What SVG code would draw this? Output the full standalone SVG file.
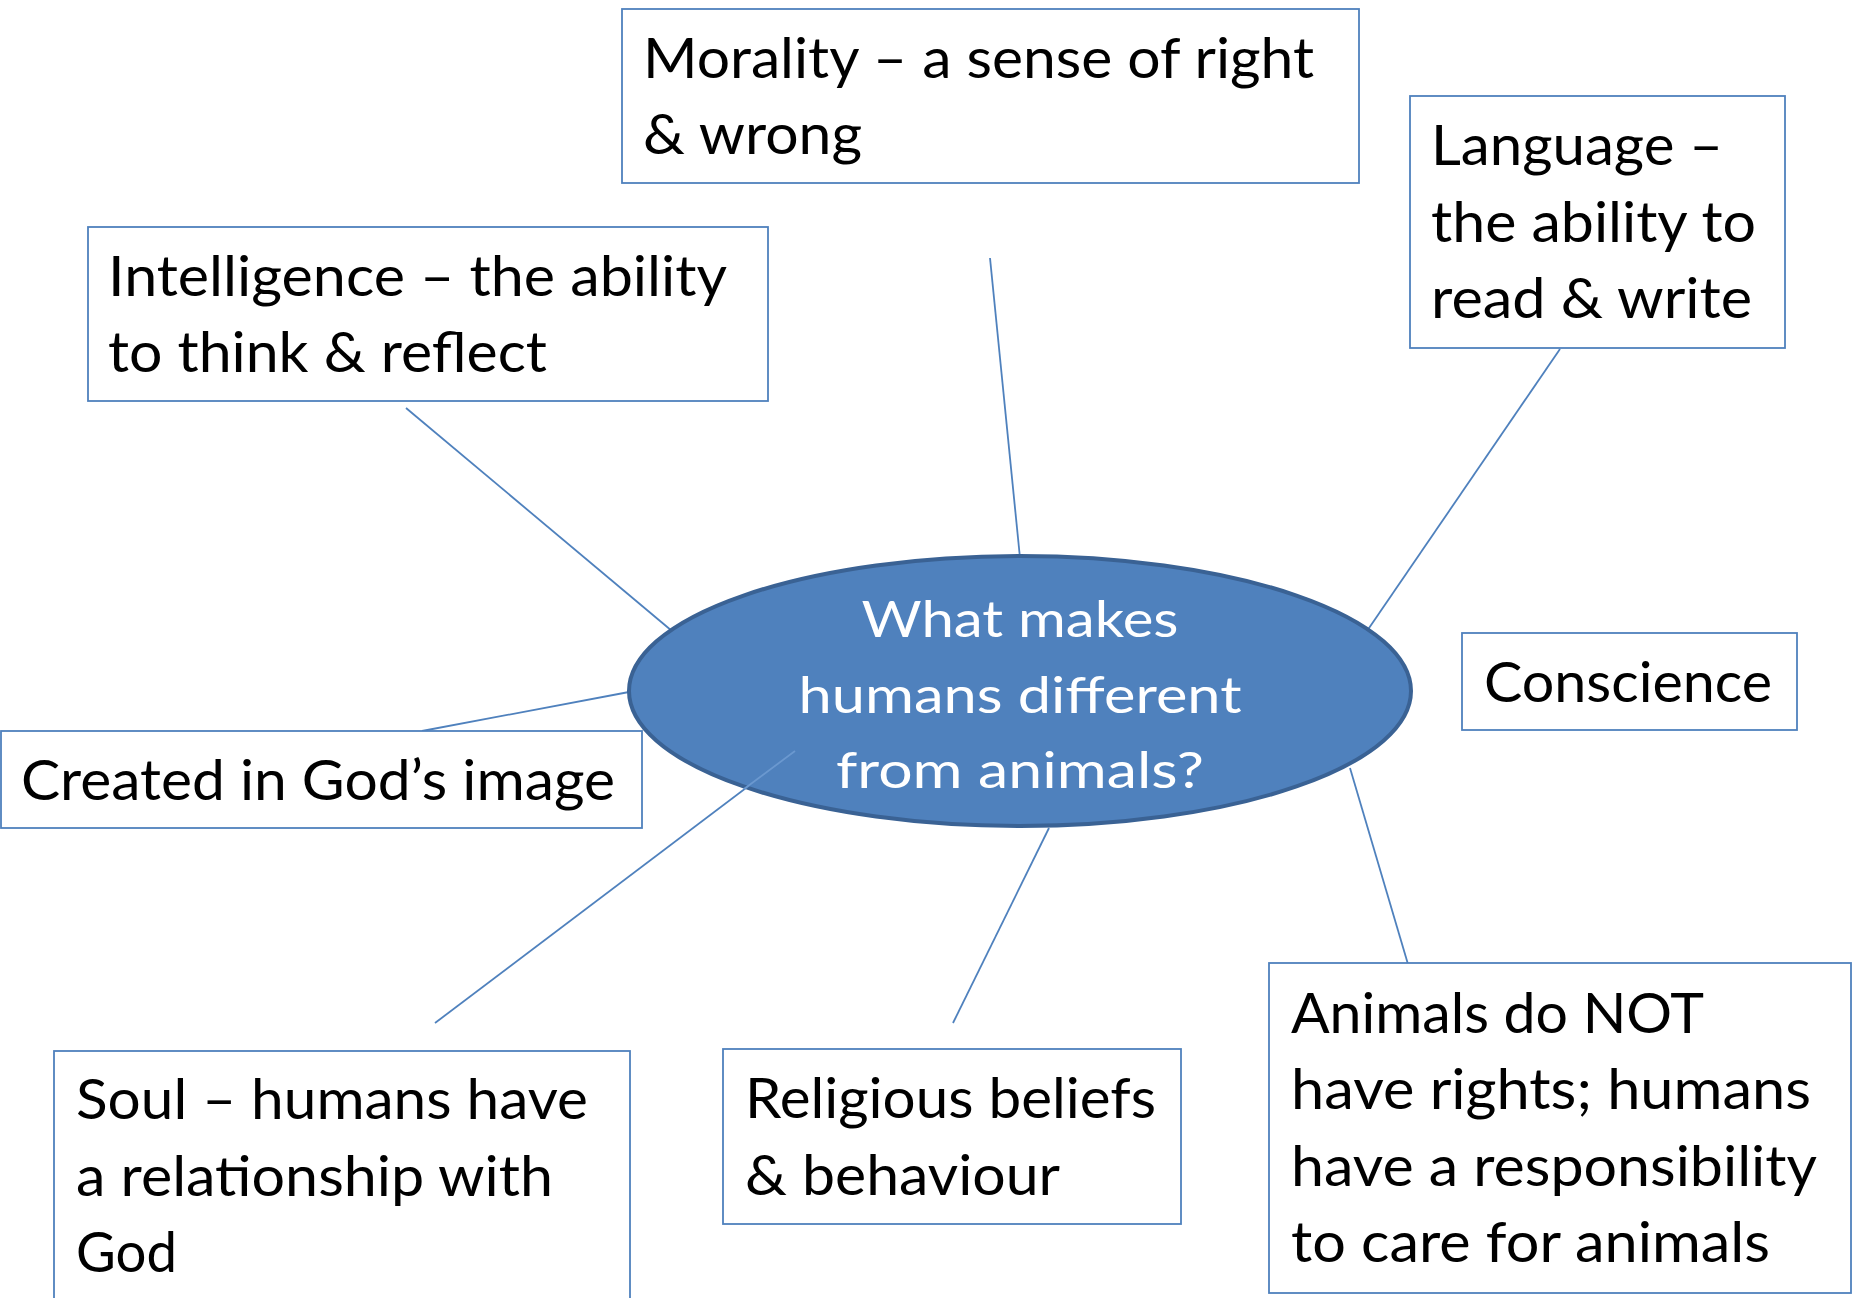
<svg xmlns="http://www.w3.org/2000/svg" width="1861" height="1298" viewBox="0 0 1861 1298">
<style>
.box{fill:#ffffff;stroke:#4F81BD;stroke-width:1.8}
.t{font-family:Lato,"Open Sans","Liberation Sans",sans-serif;font-size:56px;fill:#000000}
.c{font-family:Lato,"Open Sans","Liberation Sans",sans-serif;font-size:50px;fill:#ffffff;text-anchor:middle}
.ln{stroke:#4F81BD;stroke-width:1.8;fill:none}
</style>
<rect width="1861" height="1298" fill="#ffffff"/>
<g id="connectors">
<line class="ln" x1="990" y1="258" x2="1020" y2="558"/>
<line class="ln" x1="406" y1="408" x2="672" y2="631"/>
<line class="ln" x1="1560" y1="349" x2="1367" y2="631"/>
<line class="ln" x1="422" y1="731" x2="629" y2="692"/>
<line class="ln" x1="1049" y1="828" x2="953" y2="1023"/>
<line class="ln" x1="1350" y1="768" x2="1410" y2="971"/>
</g>
<g id="center">
<ellipse cx="1020" cy="691" rx="391" ry="135" fill="#4F81BD" stroke="#3A6294" stroke-width="4"/>
<text class="c" x="1020" y="637" textLength="317" lengthAdjust="spacingAndGlyphs">What makes</text>
<text class="c" x="1020" y="713" textLength="443" lengthAdjust="spacingAndGlyphs">humans different</text>
<text class="c" x="1020" y="788" textLength="368" lengthAdjust="spacingAndGlyphs">from animals?</text>
</g>
<g id="connector-soul">
<line x1="795" y1="751" x2="435" y2="1023" stroke="#4F81BD" stroke-width="1.8"/>
<line x1="795" y1="751" x2="744" y2="789" stroke="#6B98CF" stroke-width="1.8"/>
</g>
<g id="morality">
<rect class="box" x="622" y="9" width="737" height="174"/>
<text class="t" x="643" y="78" textLength="671" lengthAdjust="spacingAndGlyphs">Morality – a sense of right</text>
<text class="t" x="643" y="154" textLength="219" lengthAdjust="spacingAndGlyphs">&amp; wrong</text>
</g>
<g id="intelligence">
<rect class="box" x="88" y="227" width="680" height="174"/>
<text class="t" x="108" y="296" textLength="619" lengthAdjust="spacingAndGlyphs">Intelligence – the ability</text>
<text class="t" x="108" y="372" textLength="439" lengthAdjust="spacingAndGlyphs">to think &amp; reflect</text>
</g>
<g id="language">
<rect class="box" x="1410" y="96" width="375" height="252"/>
<text class="t" x="1431" y="165" textLength="292" lengthAdjust="spacingAndGlyphs">Language –</text>
<text class="t" x="1431" y="242" textLength="325" lengthAdjust="spacingAndGlyphs">the ability to</text>
<text class="t" x="1431" y="318" textLength="321" lengthAdjust="spacingAndGlyphs">read &amp; write</text>
</g>
<g id="conscience">
<rect class="box" x="1462" y="633" width="335" height="97"/>
<text class="t" x="1484" y="702" textLength="288" lengthAdjust="spacingAndGlyphs">Conscience</text>
</g>
<g id="created">
<rect class="box" x="1" y="731" width="641" height="97"/>
<text class="t" x="21" y="800" textLength="594" lengthAdjust="spacingAndGlyphs">Created in God’s image</text>
</g>
<g id="soul">
<rect class="box" x="54" y="1051" width="576" height="260"/>
<text class="t" x="76" y="1119" textLength="512" lengthAdjust="spacingAndGlyphs">Soul – humans have</text>
<text class="t" x="76" y="1196" textLength="477" lengthAdjust="spacingAndGlyphs">a relationship with</text>
<text class="t" x="76" y="1272" textLength="101" lengthAdjust="spacingAndGlyphs">God</text>
</g>
<g id="religious">
<rect class="box" x="723" y="1049" width="458" height="175"/>
<text class="t" x="745" y="1118" textLength="411" lengthAdjust="spacingAndGlyphs">Religious beliefs</text>
<text class="t" x="745" y="1195" textLength="315" lengthAdjust="spacingAndGlyphs">&amp; behaviour</text>
</g>
<g id="animals">
<rect class="box" x="1269" y="963" width="582" height="330"/>
<text class="t" x="1291" y="1033" textLength="413" lengthAdjust="spacingAndGlyphs">Animals do NOT</text>
<text class="t" x="1291" y="1109" textLength="520" lengthAdjust="spacingAndGlyphs">have rights; humans</text>
<text class="t" x="1291" y="1186" textLength="526" lengthAdjust="spacingAndGlyphs">have a responsibility</text>
<text class="t" x="1291" y="1262" textLength="479" lengthAdjust="spacingAndGlyphs">to care for animals</text>
</g>
</svg>
